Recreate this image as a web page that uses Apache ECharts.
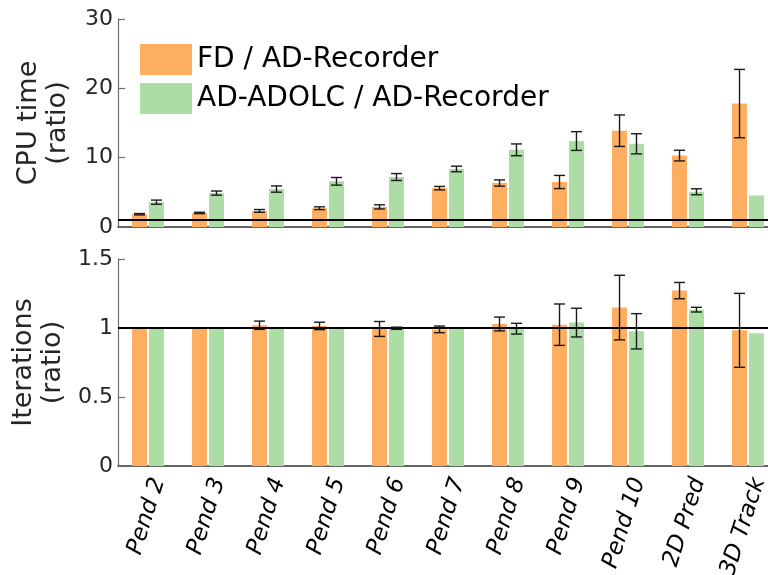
<!DOCTYPE html>
<html>
<head>
<meta charset="utf-8">
<script src="https://cdn.jsdelivr.net/npm/echarts@6/dist/echarts.min.js"></script>
<style>html,body{margin:0;padding:0;background:#fff;}#c{width:768px;height:575px;}</style>
</head>
<body>
<div id="c"></div>
<script>
const categories = ['Pend 2','Pend 3','Pend 4','Pend 5','Pend 6','Pend 7','Pend 8','Pend 9','Pend 10','2D Pred','3D Track'];
const seriesNames = ['FD / AD-Recorder', 'AD-ADOLC / AD-Recorder'];
const cpuFD = [1.84, 2.03, 2.32, 2.71, 2.9, 5.6, 6.34, 6.49, 13.89, 10.3, 17.8];
const cpuFDErr = [0.1, 0.1, 0.2, 0.2, 0.3, 0.25, 0.45, 0.95, 2.27, 0.77, 4.93];
const cpuADOLC = [3.58, 4.89, 5.47, 6.59, 7.21, 8.37, 11.13, 12.4, 12.0, 5.08, 4.55];
const cpuADOLCErr = [0.3, 0.3, 0.45, 0.55, 0.5, 0.4, 0.85, 1.35, 1.45, 0.43, null];
const iterFD = [1, 1, 1.02, 1.015, 0.993, 0.99, 1.029, 1.024, 1.148, 1.271, 0.983];
const iterFDErr = [null, null, 0.03, 0.027, 0.054, 0.024, 0.05, 0.15, 0.234, 0.059, 0.268];
const iterADOLC = [1, 1, 1, 1, 0.998, 1, 0.995, 1.039, 0.976, 1.133, 0.962];
const iterADOLCErr = [null, null, null, null, 0.008, null, 0.039, 0.104, 0.128, 0.017, null];
const cpuTicks = {min: 0, max: 30, interval: 10};
const iterTicks = {min: 0, max: 1.5, interval: 0.5};

const ORANGE = '#fdae61', GREEN = '#abdda4';
const FONT = 'DejaVu Sans';
const BAR_W = 15, BAR_GAP = '13%';
const HALF_OFF = (BAR_W + BAR_W * 0.13) / 2;

function errData(vals, errs) {
  const out = [];
  vals.forEach((v, i) => { if (errs[i] != null) out.push([i, v - errs[i], v + errs[i]]); });
  return out;
}
function errSeries(vals, errs, offset, axisIdx) {
  return {
    type: 'custom', xAxisIndex: axisIdx, yAxisIndex: axisIdx, silent: true, z: 5,
    data: errData(vals, errs),
    encode: {x: 0, y: [1, 2]},
    renderItem: function (params, api) {
      const i = api.value(0);
      const lo = api.coord([i, api.value(1)]);
      const hi = api.coord([i, api.value(2)]);
      const x = lo[0] + offset;
      const cw = 5.5;
      const st = {stroke: '#1a1a1a', lineWidth: 1.4};
      return {type: 'group', children: [
        {type: 'line', shape: {x1: x, y1: lo[1], x2: x, y2: hi[1]}, style: st},
        {type: 'line', shape: {x1: x - cw, y1: lo[1], x2: x + cw, y2: lo[1]}, style: st},
        {type: 'line', shape: {x1: x - cw, y1: hi[1], x2: x + cw, y2: hi[1]}, style: st}
      ]};
    }
  };
}
const refLine = {
  silent: true, symbol: 'none', label: {show: false},
  lineStyle: {color: '#000', width: 2, type: 'solid'},
  data: [{yAxis: 1}]
};
function yAxisCfg(ticks, gridIdx, name) {
  return {
    type: 'value', gridIndex: gridIdx, min: ticks.min, max: ticks.max, interval: ticks.interval,
    name: name, nameLocation: 'middle', nameRotate: 90, nameGap: 46,
    nameTextStyle: {fontFamily: FONT, fontSize: 27, color: '#262626', lineHeight: 29},
    axisLine: {show: true, lineStyle: {color: '#6e6e6e', width: 1.2}},
    axisTick: {show: true, inside: true, length: 7, lineStyle: {color: '#6e6e6e', width: 1.2}},
    axisLabel: {fontFamily: FONT, fontSize: 22, color: '#262626', margin: 5},
    splitLine: {show: false}
  };
}
function xAxisCfg(gridIdx, showLabels) {
  return {
    type: 'category', gridIndex: gridIdx, data: categories,
    axisLine: {show: true, lineStyle: {color: '#333', width: 1.5}},
    axisTick: {show: false},
    axisLabel: showLabels ? {
      show: true, interval: 0, rotate: 72, verticalAlign: 'top', fontFamily: FONT, fontStyle: 'italic',
      fontSize: 23, color: '#000', margin: 9
    } : {show: false}
  };
}
function barSeries(name, vals, color, axisIdx, withRef) {
  const s = {
    type: 'bar', name: name, xAxisIndex: axisIdx, yAxisIndex: axisIdx,
    data: vals, barWidth: BAR_W, barGap: BAR_GAP,
    itemStyle: {color: color}, silent: true
  };
  if (withRef) s.markLine = refLine;
  return s;
}

const chart = echarts.init(document.getElementById('c'), null, {renderer: 'canvas'});
chart.setOption({
  animation: false,
  backgroundColor: '#fff',
  textStyle: {fontFamily: FONT},
  legend: {
    orient: 'vertical', left: 140, top: 44, padding: 0, itemWidth: 52, itemHeight: 31, itemGap: 8,
    icon: 'rect', data: seriesNames,
    textStyle: {fontFamily: FONT, fontSize: 28, color: '#000'},
    selectedMode: false
  },
  grid: [
    {left: 118, width: 660, top: 19, height: 208, outerBoundsMode: 'none', containLabel: false},
    {left: 118, width: 660, top: 259, height: 207, outerBoundsMode: 'none', containLabel: false}
  ],
  xAxis: [xAxisCfg(0, false), xAxisCfg(1, true)],
  yAxis: [yAxisCfg(cpuTicks, 0, 'CPU time\n(ratio)'), yAxisCfg(iterTicks, 1, 'Iterations\n(ratio)')],
  series: [
    barSeries(seriesNames[0], cpuFD, ORANGE, 0, true),
    barSeries(seriesNames[1], cpuADOLC, GREEN, 0, false),
    barSeries(seriesNames[0], iterFD, ORANGE, 1, true),
    barSeries(seriesNames[1], iterADOLC, GREEN, 1, false),
    errSeries(cpuFD, cpuFDErr, -HALF_OFF, 0),
    errSeries(cpuADOLC, cpuADOLCErr, HALF_OFF, 0),
    errSeries(iterFD, iterFDErr, -HALF_OFF, 1),
    errSeries(iterADOLC, iterADOLCErr, HALF_OFF, 1)
  ]
});
</script>
</body>
</html>
